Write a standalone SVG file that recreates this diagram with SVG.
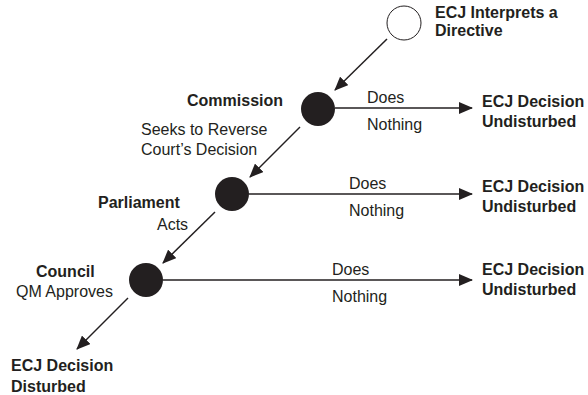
<svg xmlns="http://www.w3.org/2000/svg" width="588" height="395" viewBox="0 0 588 395">
<style>
text{font-family:"Liberation Sans",Arial,sans-serif;font-size:16px;fill:#231f20}
.b{font-weight:bold}
.c{stroke:#231f20;stroke-width:1.5;fill:none}
.n{fill:#231f20}
</style>
<defs>
<marker id="ah" markerUnits="userSpaceOnUse" markerWidth="14" markerHeight="12" viewBox="0 0 14 12" refX="13" refY="6" orient="auto">
<path d="M0,0 L14,6 L0,12 Z" fill="#231f20"/>
</marker>
</defs>
<rect width="588" height="395" fill="#fff"/>
<g id="connectors">
<line class="c" x1="387" y1="39" x2="335" y2="90" marker-end="url(#ah)"/>
<line class="c" x1="335" y1="108" x2="472" y2="108" marker-end="url(#ah)"/>
<line class="c" x1="300" y1="127" x2="250" y2="177" marker-end="url(#ah)"/>
<line class="c" x1="249" y1="194" x2="472" y2="194" marker-end="url(#ah)"/>
<line class="c" x1="215" y1="212" x2="163" y2="263" marker-end="url(#ah)"/>
<line class="c" x1="163" y1="280" x2="472" y2="280" marker-end="url(#ah)"/>
<line class="c" x1="128" y1="298" x2="77" y2="349" marker-end="url(#ah)"/>
<text x="367" y="103">Does</text>
<text x="367" y="130">Nothing</text>
<text x="349" y="189">Does</text>
<text x="349" y="216">Nothing</text>
<text x="332" y="275">Does</text>
<text x="332" y="302">Nothing</text>
<text x="141" y="135">Seeks to Reverse</text>
<text x="141" y="155">Court’s Decision</text>
<text x="157" y="230">Acts</text>
<text x="16" y="297">QM Approves</text>
</g>
<g id="start">
<circle cx="404" cy="23" r="17" fill="#fff" stroke="#231f20" stroke-width="1"/>
<text class="b" x="435" y="18">ECJ Interprets a</text>
<text class="b" x="435" y="36">Directive</text>
</g>
<g id="commission">
<circle class="n" cx="318" cy="109" r="17"/>
<text class="b" x="187" y="106">Commission</text>
</g>
<g id="parliament">
<circle class="n" cx="232" cy="194" r="17"/>
<text class="b" x="98" y="208">Parliament</text>
</g>
<g id="council">
<circle class="n" cx="146" cy="280" r="17"/>
<text class="b" x="36" y="277">Council</text>
</g>
<g id="out1">
<text class="b" x="482" y="107">ECJ Decision</text>
<text class="b" x="482" y="127">Undisturbed</text>
</g>
<g id="out2">
<text class="b" x="482" y="192">ECJ Decision</text>
<text class="b" x="482" y="212">Undisturbed</text>
</g>
<g id="out3">
<text class="b" x="482" y="275">ECJ Decision</text>
<text class="b" x="482" y="295">Undisturbed</text>
</g>
<g id="out4">
<text class="b" x="11" y="371">ECJ Decision</text>
<text class="b" x="11" y="392">Disturbed</text>
</g>
</svg>
